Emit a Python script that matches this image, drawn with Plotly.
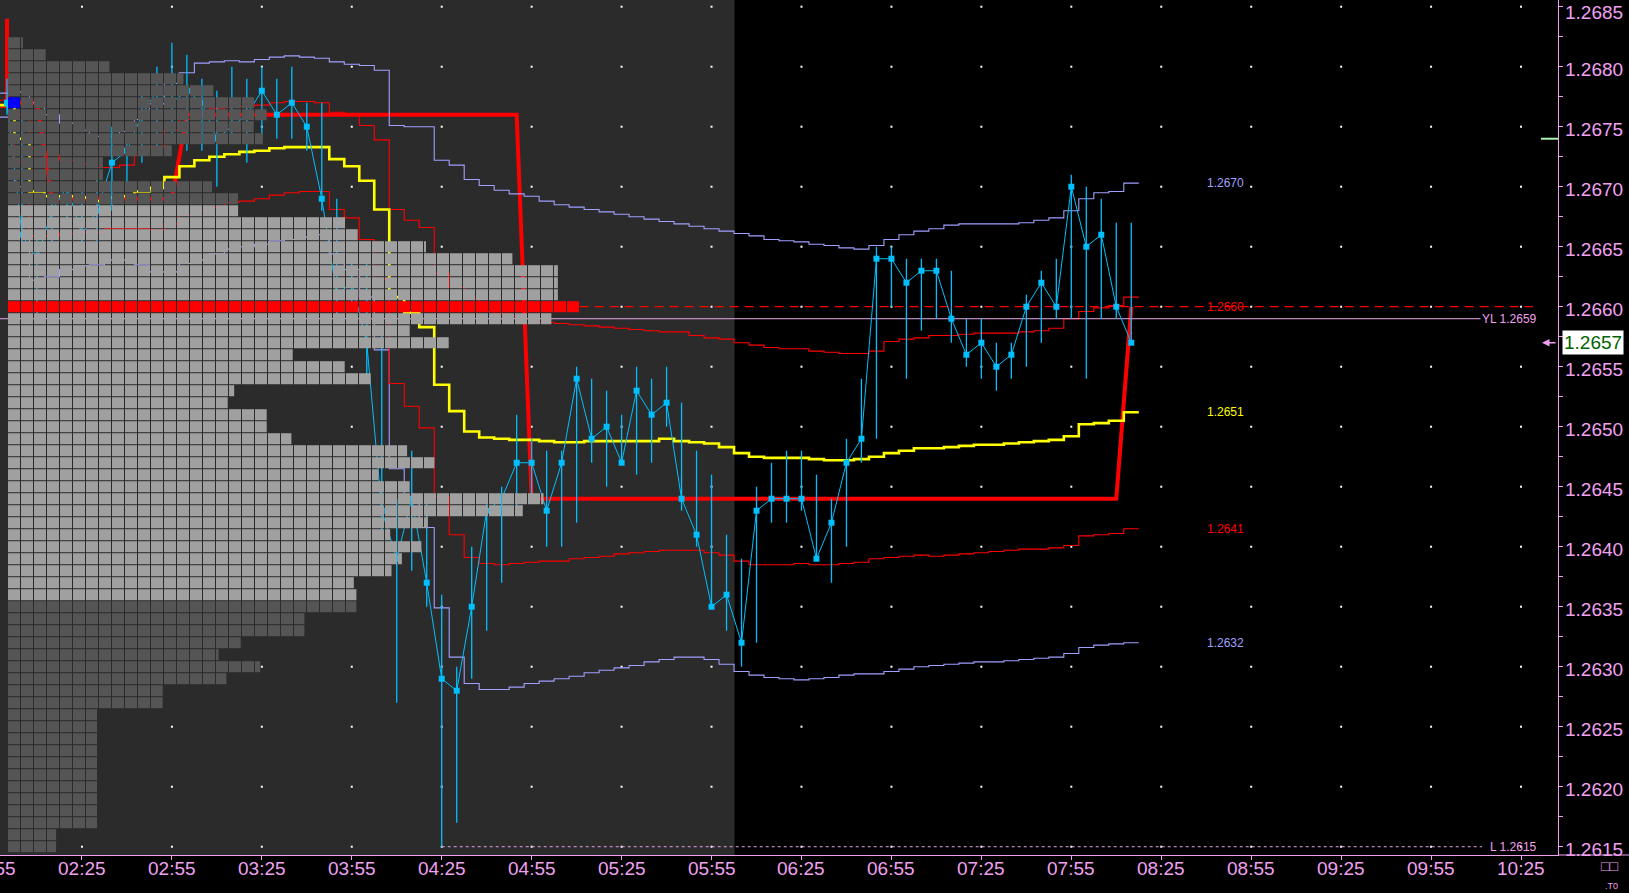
import pandas as pd
import plotly.graph_objects as go

DAY = "2024-01-02 "
x_start = "01:57:40"
x_end = "10:37:20"
session_end = "06:02:40"
bar_start = "02:00"

# ---------------- 5-minute bars ----------------
close = [1.2677, 1.2666, 1.2664, 1.2668, 1.2670, 1.2666, 1.2668, 1.2672, 1.2673, 1.2676,
         1.2678, 1.2677, 1.2678, 1.2677, 1.2674, 1.2675, 1.2676, 1.2678, 1.2676, 1.2677,
         1.2675, 1.2669, 1.2661, 1.2662, 1.2657, 1.2643, 1.2639, 1.2644, 1.2637, 1.2629,
         1.2628, 1.2635, 1.2643, 1.2644, 1.2647, 1.2647, 1.2643, 1.2647, 1.2654, 1.2649,
         1.2650, 1.2647, 1.2653, 1.2651, 1.2652, 1.2644, 1.2641, 1.2635, 1.2636, 1.2632,
         1.2643, 1.2644, 1.2644, 1.2644, 1.2639, 1.2642, 1.2647, 1.2649, 1.2664, 1.2664,
         1.2662, 1.2663, 1.2663, 1.2659, 1.2656, 1.2657, 1.2655, 1.2656, 1.2660, 1.2662,
         1.2660, 1.2670, 1.2665, 1.2666, 1.2660, 1.2657]
high = [1.2679, 1.2676, 1.2666, 1.2669, 1.2670, 1.2670, 1.2671, 1.2675, 1.2674, 1.2678,
        1.2680, 1.2682, 1.2681, 1.2679, 1.2678, 1.2680, 1.2679, 1.2680, 1.2679, 1.2680,
        1.2677, 1.2677, 1.2669, 1.2664, 1.2664, 1.2658, 1.2644, 1.2648, 1.2644, 1.2636,
        1.2630, 1.2640, 1.2644, 1.2645, 1.2651, 1.2649, 1.2648, 1.2648, 1.2655, 1.2654,
        1.2653, 1.2651, 1.2655, 1.2654, 1.2655, 1.2652, 1.2648, 1.2646, 1.2641, 1.2639,
        1.2645, 1.2647, 1.2648, 1.2648, 1.2646, 1.2644, 1.2649, 1.2654, 1.2665, 1.2665,
        1.2664, 1.2664, 1.2664, 1.2663, 1.2659, 1.2659, 1.2657, 1.2657, 1.2661, 1.2663,
        1.2664, 1.2671, 1.2670, 1.2669, 1.2667, 1.2667]
low = [1.2676, 1.2665, 1.2659, 1.2665, 1.2667, 1.2665, 1.2665, 1.2668, 1.2670, 1.2672,
       1.2673, 1.2674, 1.2673, 1.2673, 1.2670, 1.2674, 1.2672, 1.2674, 1.2674, 1.2674,
       1.2673, 1.2668, 1.2659, 1.2660, 1.2654, 1.2641, 1.2627, 1.2638, 1.2635, 1.2615,
       1.2617, 1.2629, 1.2633, 1.2637, 1.2643, 1.2644, 1.2640, 1.2640, 1.2642, 1.2647,
       1.2645, 1.2647, 1.2646, 1.2647, 1.2650, 1.2643, 1.2640, 1.2635, 1.2633, 1.2630,
       1.2632, 1.2642, 1.2642, 1.2643, 1.2639, 1.2637, 1.2640, 1.2647, 1.2649, 1.2660,
       1.2654, 1.2658, 1.2659, 1.2657, 1.2655, 1.2654, 1.2653, 1.2654, 1.2655, 1.2657,
       1.2659, 1.2659, 1.2654, 1.2659, 1.2659, 1.2657]

# ---------------- VWAP and bands (per bar) ----------------
vwap = [1.26768, 1.26740, 1.26696, 1.26692, 1.26692, 1.26691, 1.26688, 1.26691, 1.26692, 1.26696,
        1.26699, 1.26708, 1.26717, 1.26722, 1.26725, 1.26727, 1.26729, 1.26730, 1.26732, 1.26733,
        1.26733, 1.26733, 1.26723, 1.26717, 1.26705, 1.26681, 1.26608, 1.26595, 1.26583, 1.26535,
        1.26513, 1.26496, 1.26491, 1.26490, 1.26489, 1.26489, 1.26488, 1.26487, 1.26487, 1.26488,
        1.26488, 1.26488, 1.26488, 1.26488, 1.26490, 1.26488, 1.26487, 1.26486, 1.26483, 1.26478,
        1.26475, 1.26474, 1.26474, 1.26474, 1.26473, 1.26472, 1.26472, 1.26473, 1.26475, 1.26478,
        1.26480, 1.26482, 1.26482, 1.26483, 1.26484, 1.26485, 1.26485, 1.26486, 1.26487, 1.26488,
        1.26489, 1.26492, 1.26502, 1.26503, 1.26505, 1.26512]
upper_1sd = [1.26772, 1.26760, 1.26732, 1.26726, 1.26722, 1.26719, 1.26716, 1.26716, 1.26718, 1.26726,
             1.26733, 1.26747, 1.26756, 1.26763, 1.26765, 1.26766, 1.26767, 1.26768, 1.26770, 1.26771,
             1.26771, 1.26770, 1.26762, 1.26760, 1.26751, 1.26739, 1.26681, 1.26672, 1.26666, 1.26628,
             1.26616, 1.26607, 1.26596, 1.26594, 1.26592, 1.26590, 1.26587, 1.26586, 1.26585, 1.26584,
             1.26583, 1.26582, 1.26581, 1.26580, 1.26579, 1.26579, 1.26576, 1.26574, 1.26573, 1.26570,
             1.26568, 1.26566, 1.26565, 1.26565, 1.26563, 1.26562, 1.26561, 1.26561, 1.26563, 1.26571,
             1.26573, 1.26574, 1.26576, 1.26576, 1.26577, 1.26578, 1.26578, 1.26578, 1.26579, 1.26580,
             1.26582, 1.26590, 1.26596, 1.26599, 1.26601, 1.26608]
lower_1sd = [1.26766, 1.26721, 1.26659, 1.26659, 1.26661, 1.26662, 1.26662, 1.26665, 1.26665, 1.26665,
             1.26664, 1.26669, 1.26676, 1.26680, 1.26683, 1.26687, 1.26688, 1.26690, 1.26693, 1.26695,
             1.26696, 1.26696, 1.26681, 1.26674, 1.26656, 1.26623, 1.26536, 1.26517, 1.26499, 1.26442,
             1.26410, 1.26391, 1.26386, 1.26385, 1.26386, 1.26387, 1.26388, 1.26388, 1.26390, 1.26391,
             1.26392, 1.26394, 1.26395, 1.26396, 1.26397, 1.26397, 1.26397, 1.26395, 1.26393, 1.26388,
             1.26385, 1.26385, 1.26385, 1.26386, 1.26385, 1.26385, 1.26386, 1.26387, 1.26390, 1.26391,
             1.26392, 1.26393, 1.26392, 1.26393, 1.26394, 1.26395, 1.26396, 1.26397, 1.26398, 1.26398,
             1.26399, 1.26401, 1.26409, 1.26410, 1.26411, 1.26415]
upper_2sd = [1.26778, 1.26779, 1.26770, 1.26760, 1.26753, 1.26747, 1.26742, 1.26742, 1.26746, 1.26756,
             1.26769, 1.26786, 1.26795, 1.26803, 1.26804, 1.26805, 1.26804, 1.26806, 1.26808, 1.26809,
             1.26808, 1.26807, 1.26804, 1.26802, 1.26801, 1.26797, 1.26751, 1.26750, 1.26750, 1.26722,
             1.26718, 1.26706, 1.26701, 1.26697, 1.26694, 1.26692, 1.26688, 1.26685, 1.26683, 1.26681,
             1.26679, 1.26677, 1.26675, 1.26673, 1.26671, 1.26669, 1.26667, 1.26665, 1.26663, 1.26661,
             1.26659, 1.26656, 1.26655, 1.26654, 1.26652, 1.26651, 1.26649, 1.26648, 1.26651, 1.26656,
             1.26660, 1.26663, 1.26665, 1.26668, 1.26669, 1.26669, 1.26669, 1.26669, 1.26670, 1.26672,
             1.26674, 1.26680, 1.26690, 1.26695, 1.26696, 1.26703]
lower_2sd = [1.26758, 1.26700, 1.26622, 1.26625, 1.26631, 1.26634, 1.26635, 1.26639, 1.26639, 1.26635,
             1.26629, 1.26629, 1.26636, 1.26639, 1.26644, 1.26648, 1.26650, 1.26652, 1.26655, 1.26656,
             1.26658, 1.26660, 1.26644, 1.26631, 1.26608, 1.26564, 1.26465, 1.26440, 1.26416, 1.26349,
             1.26308, 1.26286, 1.26281, 1.26281, 1.26283, 1.26286, 1.26288, 1.26290, 1.26292, 1.26295,
             1.26297, 1.26299, 1.26301, 1.26304, 1.26306, 1.26308, 1.26308, 1.26306, 1.26302, 1.26296,
             1.26293, 1.26291, 1.26290, 1.26289, 1.26290, 1.26291, 1.26293, 1.26294, 1.26294, 1.26296,
             1.26298, 1.26300, 1.26301, 1.26302, 1.26303, 1.26304, 1.26304, 1.26305, 1.26306, 1.26307,
             1.26308, 1.26311, 1.26316, 1.26318, 1.26319, 1.26320]
# developing POC (thick red)
dev_poc_start = 1.2684
dev_poc = [1.2677, 1.2677, 1.2677, 1.2669, 1.2669, 1.2669, 1.2669, 1.2669, 1.2669, 1.2669,
           1.2669, 1.2669, 1.2676, 1.2676, 1.2676, 1.2676, 1.2676, 1.2676, 1.2676, 1.2676,
           1.2676, 1.2676, 1.2676, 1.2676, 1.2676, 1.2676, 1.2676, 1.2676, 1.2676, 1.2676,
           1.2676, 1.2676, 1.2676, 1.2676, 1.2676, 1.2644, 1.2644, 1.2644, 1.2644, 1.2644,
           1.2644, 1.2644, 1.2644, 1.2644, 1.2644, 1.2644, 1.2644, 1.2644, 1.2644, 1.2644,
           1.2644, 1.2644, 1.2644, 1.2644, 1.2644, 1.2644, 1.2644, 1.2644, 1.2644, 1.2644,
           1.2644, 1.2644, 1.2644, 1.2644, 1.2644, 1.2644, 1.2644, 1.2644, 1.2644, 1.2644,
           1.2644, 1.2644, 1.2644, 1.2644, 1.2644, 1.2660]

# ---------------- TPO profile (length in squares per price row) ----------------
tpo_price = [1.2682, 1.2681, 1.2680, 1.2679, 1.2678, 1.2677, 1.2676, 1.2675, 1.2674, 1.2673,
             1.2672, 1.2671, 1.2670, 1.2669, 1.2668, 1.2667, 1.2666, 1.2665, 1.2664, 1.2663,
             1.2662, 1.2661, 1.2660, 1.2659, 1.2658, 1.2657, 1.2656, 1.2655, 1.2654, 1.2653,
             1.2652, 1.2651, 1.2650, 1.2649, 1.2648, 1.2647, 1.2646, 1.2645, 1.2644, 1.2643,
             1.2642, 1.2641, 1.2640, 1.2639, 1.2638, 1.2637, 1.2636, 1.2635, 1.2634, 1.2633,
             1.2632, 1.2631, 1.2630, 1.2629, 1.2628, 1.2627, 1.2626, 1.2625, 1.2624, 1.2623,
             1.2622, 1.2621, 1.2620, 1.2619, 1.2618, 1.2617, 1.2616, 1.2615]
tpo_len = [1.1, 2.9, 7.8, 13.5, 15.8, 19.0, 19.9, 18.9, 19.6, 12.6,
           7.3, 7.3, 15.7, 17.7, 17.7, 26.0, 26.9, 32.1, 38.8, 42.3,
           42.3, 42.3, 44.0, 41.8, 30.9, 33.9, 21.9, 25.9, 27.9, 17.4,
           16.9, 19.9, 19.9, 21.8, 30.7, 32.8, 28.5, 30.9, 41.2, 39.6,
           32.3, 29.4, 31.8, 30.3, 29.5, 26.6, 26.8, 26.8, 22.8, 22.8,
           17.9, 16.2, 19.4, 16.8, 11.9, 11.9, 6.85, 6.85, 6.85, 6.85,
           6.85, 6.85, 6.85, 6.85, 6.85, 6.85, 3.7, 3.7]
poc_price = 1.2660
va_high = 1.2668
va_low = 1.2636
open_price = 1.2677

# ---------------- reference levels ----------------
yest_low = 1.2659
session_low = 1.2615
session_low_time = "04:25"
last_price = 1.2657
green_level = 1.2674
band_label_text = ["1.2670", "1.2660", "1.2651", "1.2641", "1.2632"]

x_ticks = ["02:25", "02:55", "03:25", "03:55", "04:25", "04:55", "05:25", "05:55", "06:25",
           "06:55", "07:25", "07:55", "08:25", "08:55", "09:25", "09:55", "10:25"]
first_tick_label = "01:55"
y_ticks = [1.2615, 1.2620, 1.2625, 1.2630, 1.2635, 1.2640, 1.2645, 1.2650,
           1.2655, 1.2660, 1.2665, 1.2670, 1.2675, 1.2680, 1.2685]

# ---------------- styles ----------------
BG_SESSION = "#2b2b2b"
PINK = "#f0a0f0"
CYAN = "#00bfff"
LAV = "#a0a0ff"
RED = "#ff0000"
YEL = "#ffff00"
TPO_DARK = "#555555"
TPO_LIGHT = "#a0a0a0"
TPO_OPEN = "#0000ff"
FONT = "Liberation Sans, Arial, sans-serif"
PLOT_W = 1558.0
AXIS_FONT = dict(family=FONT, size=19, color=PINK)


def T(hm):
    return pd.Timestamp(DAY + hm)


bar_time = list(pd.date_range(T(bar_start), periods=len(close), freq="5min"))
half = pd.Timedelta(minutes=2.5)
step_x = [t - half for t in bar_time] + [bar_time[-1] + half]


def step_y(v):
    return list(v) + [v[-1]]


fig = go.Figure()

# grid dots
gx, gy = [], []
for t in x_ticks:
    for p in y_ticks:
        gx.append(T(t))
        gy.append(p)
fig.add_trace(go.Scatter(x=gx, y=gy, mode="markers",
                         marker=dict(symbol="square", size=2, color="white", line_width=0)))

# developing POC (drawn under the profile)
fig.add_trace(go.Scatter(x=[bar_time[0]] + bar_time, y=[dev_poc_start] + dev_poc, mode="lines",
                         line=dict(color=RED, width=4)))

# TPO squares
sq_y, sq_base, sq_w, sq_c = [], [], [], []
for p, L in zip(tpo_price, tpo_len):
    if abs(p - poc_price) < 1e-9:
        col = RED
    elif va_low - 1e-9 <= p <= va_high + 1e-9:
        col = TPO_LIGHT
    else:
        col = TPO_DARK
    k = 0
    while k < L - 1e-9:
        w = min(12.0 / 13.0, L - k)
        c = TPO_OPEN if (k == 0 and abs(p - open_price) < 1e-9) else col
        sq_y.append(p)
        sq_base.append(k)
        sq_w.append(w)
        sq_c.append(c)
        k += 1
fig.add_trace(go.Bar(orientation="h", y=sq_y, x=sq_w, base=sq_base, xaxis="x2", yaxis="y",
                     width=0.0001 * 11 / 12, marker=dict(color=sq_c, line_width=0)))

# bands
for vals, color, width in [(upper_2sd, LAV, 1.1), (lower_2sd, LAV, 1.1),
                           (upper_1sd, RED, 1.1), (lower_1sd, RED, 1.1), (vwap, YEL, 2.6)]:
    fig.add_trace(go.Scatter(x=step_x, y=step_y(vals), mode="lines",
                             line=dict(color=color, width=width, shape="hv")))

# reference level lines
fig.add_trace(go.Scatter(x=[T(x_start), T("10:11:30")], y=[yest_low, yest_low], mode="lines",
                         line=dict(color="#e8a8e8", width=1)))
fig.add_trace(go.Scatter(x=[T(session_low_time), T("10:12")], y=[session_low, session_low], mode="lines",
                         line=dict(color="#e0a0e0", width=1, dash="3px,3px")))
fig.add_trace(go.Scatter(x=[T("05:11"), T("10:29")], y=[poc_price, poc_price], mode="lines",
                         line=dict(color=RED, width=1.2, dash="9px,6px")))
fig.add_trace(go.Scatter(x=[T("10:31:40"), T("10:37:20")], y=[green_level, green_level], mode="lines",
                         line=dict(color="#b0f0b0", width=2), cliponaxis=False))

# candles: high-low wicks and closes
wx, wy = [], []
for t, h, l in zip(bar_time, high, low):
    wx += [t, t, None]
    wy += [l, h, None]
fig.add_trace(go.Scatter(x=wx, y=wy, mode="lines", line=dict(color=CYAN, width=1.3)))
fig.add_trace(go.Scatter(x=bar_time, y=close, mode="lines+markers",
                         line=dict(color=CYAN, width=1),
                         marker=dict(symbol="square", size=6, color=CYAN, line_width=0)))

# annotations
ann = []
label_vals = [upper_2sd[-1], poc_price, vwap[-1], lower_1sd[-1], lower_2sd[-1]]
label_cols = [LAV, RED, YEL, RED, LAV]
for txt, v, c in zip(band_label_text, label_vals, label_cols):
    ann.append(dict(x=T("08:46:20"), y=v, xref="x", yref="y", text=txt, showarrow=False,
                    font=dict(family=FONT, size=12, color=c), xanchor="center", yanchor="middle"))
ann.append(dict(x=T("10:31"), y=yest_low, xref="x", yref="y", text="YL " + f"{yest_low:.4f}",
                showarrow=False, font=dict(family=FONT, size=12, color=PINK), xanchor="right",
                yanchor="middle"))
ann.append(dict(x=T("10:31"), y=session_low, xref="x", yref="y", text="L " + f"{session_low:.4f}",
                showarrow=False, font=dict(family=FONT, size=12, color=PINK), xanchor="right",
                yanchor="middle"))

# price-axis labels (slightly below their ticks, as in the reference)
for v in y_ticks:
    if v == y_ticks[-1]:
        ann.append(dict(x=1, y=v, xref="paper", yref="y", text=f"{v:.4f}", showarrow=False,
                        xanchor="left", yanchor="top", xshift=5, yshift=7, font=AXIS_FONT))
    else:
        ann.append(dict(x=1, y=v, xref="paper", yref="y", text=f"{v:.4f}", showarrow=False,
                        xanchor="left", yanchor="middle", xshift=5, yshift=-3, font=AXIS_FONT))
# time-axis labels
for t in x_ticks:
    ann.append(dict(x=T(t), y=0, xref="x", yref="paper", text=t, showarrow=False,
                    xanchor="center", yanchor="top", yshift=-1, font=AXIS_FONT))
# partially visible first time label (its tick lies just left of the plot)
ann.append(dict(x=-8 / PLOT_W, y=0, xref="paper", yref="paper", text=first_tick_label, showarrow=False,
                xanchor="center", yanchor="top", yshift=-1, font=AXIS_FONT))

# current price box
ann.append(dict(x=1, y=last_price, xref="paper", yref="y", text=f"{last_price:.4f}", showarrow=False,
                xanchor="left", yanchor="middle", xshift=4, bgcolor="white", borderpad=1,
                font=dict(family=FONT, size=19, color="#006400")))
ann.append(dict(x=T("10:32"), y=last_price, xref="x", yref="y", ax=15, ay=0, text="",
                showarrow=True, arrowhead=2, arrowsize=1, arrowwidth=1.5, arrowcolor=PINK))
ann.append(dict(x=1.04, y=0, xref="paper", yref="paper", text="□□", showarrow=False,
                yanchor="top", yshift=-1, font=dict(family=FONT, size=14, color=PINK)))
ann.append(dict(x=1.04, y=0, xref="paper", yref="paper", text=".T0", showarrow=False,
                yanchor="bottom", yshift=-38, font=dict(family=FONT, size=9, color=PINK)))

fig.update_layout(
    width=1629, height=893, autosize=False,
    margin=dict(l=0, r=71, t=0, b=38),
    paper_bgcolor="black", plot_bgcolor="black",
    showlegend=False, hovermode=False, barmode="overlay",
    annotations=ann,
    shapes=[dict(type="rect", xref="x", yref="paper", x0=T("01:50"), x1=T(session_end), y0=0, y1=1,
                 fillcolor=BG_SESSION, line_width=0, layer="below"),
            dict(type="line", xref="paper", yref="paper", x0=1, x1=1629 / PLOT_W, y0=0, y1=0,
                 line=dict(color=PINK, width=1))],
    xaxis=dict(type="date", range=[T(x_start), T(x_end)], showgrid=False, zeroline=False,
               automargin=False, showticklabels=False,
               showline=True, linecolor=PINK, linewidth=1, ticks="outside", ticklen=4, tickcolor=PINK,
               tickmode="array", tickvals=[T(t) for t in x_ticks]),
    xaxis2=dict(overlaying="x", anchor="y", range=[-8 / 13, 1550 / 13], visible=False, automargin=False),
    yaxis=dict(side="right", range=[1.261431, 1.268556], showgrid=False, zeroline=False,
               automargin=False, showticklabels=False,
               showline=True, linecolor=PINK, linewidth=1, ticks="outside", ticklen=4, tickcolor=PINK,
               tickmode="array", tickvals=y_ticks,
               minor=dict(ticks="outside", ticklen=4, tickcolor=PINK,
                          tickvals=[(a + b) / 2 for a, b in zip(y_ticks[:-1], y_ticks[1:])])),
)

fig.write_html("out.html", config={"displayModeBar": False},
               post_script="document.body.style.margin='0px';document.body.style.overflow='hidden';")
